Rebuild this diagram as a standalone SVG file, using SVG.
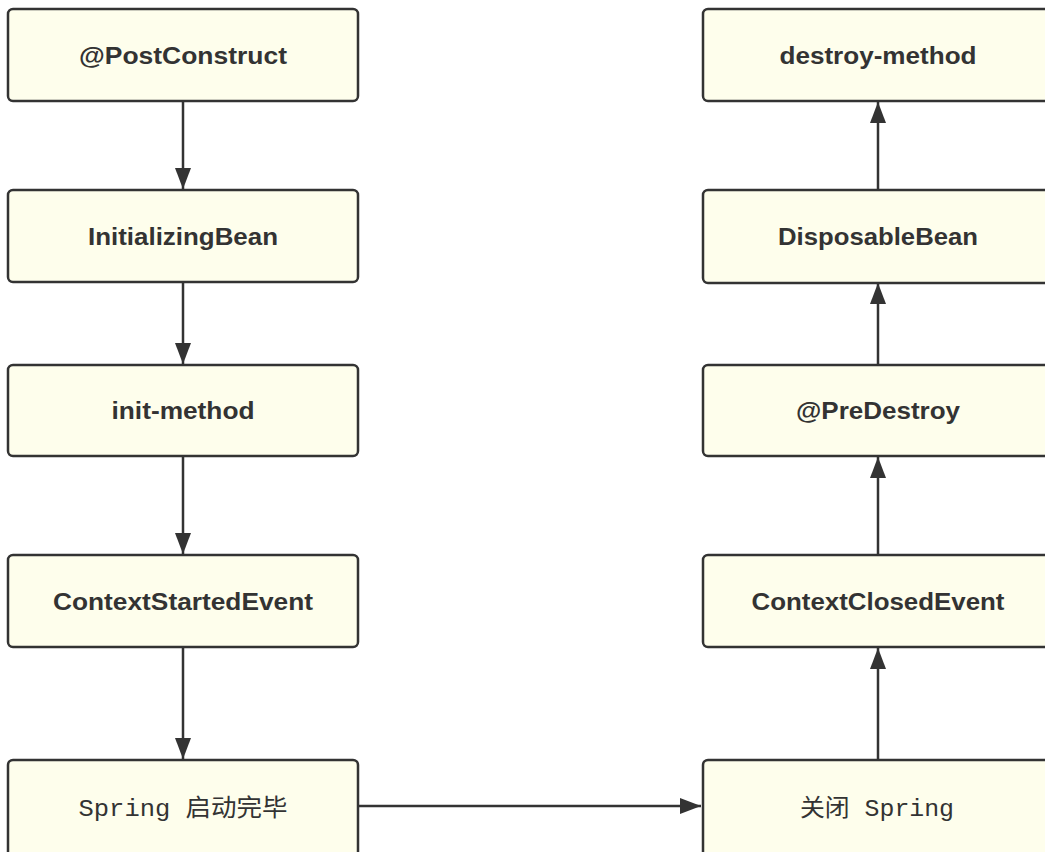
<svg xmlns="http://www.w3.org/2000/svg" width="1045" height="852" viewBox="0 0 1045 852">
<style>
.box{fill:#fefeec;stroke:#333;stroke-width:2.5}
.t{font-family:"Liberation Sans",Arial,sans-serif;font-weight:bold;font-size:23px;fill:#333;text-anchor:middle}
.m{font-family:"Liberation Mono","Noto Sans CJK SC",monospace;font-size:24px;fill:#333;text-anchor:middle}
.c{fill:none;stroke:#333;stroke-width:2.5}
</style>
<defs>
<marker id="ah" viewBox="0 0 21 16" refX="21" refY="8" markerWidth="21" markerHeight="16" markerUnits="userSpaceOnUse" orient="auto">
<path d="M0,0 L21,8 L0,16 Z" fill="#333"/>
</marker>
</defs>
<rect width="1045" height="852" fill="#fff"/>
<g id="connectors">
<line class="c" x1="183" y1="101" x2="183" y2="189" marker-end="url(#ah)"/>
<line class="c" x1="183" y1="282" x2="183" y2="364" marker-end="url(#ah)"/>
<line class="c" x1="183" y1="456" x2="183" y2="554" marker-end="url(#ah)"/>
<line class="c" x1="183" y1="647" x2="183" y2="759" marker-end="url(#ah)"/>
<line class="c" x1="358" y1="806" x2="701" y2="806" marker-end="url(#ah)"/>
<line class="c" x1="878" y1="760" x2="878" y2="648" marker-end="url(#ah)"/>
<line class="c" x1="878" y1="555" x2="878" y2="457" marker-end="url(#ah)"/>
<line class="c" x1="878" y1="365" x2="878" y2="283" marker-end="url(#ah)"/>
<line class="c" x1="878" y1="190" x2="878" y2="102" marker-end="url(#ah)"/>
</g>
<g id="postconstruct">
<rect class="box" x="8" y="9" width="350" height="92" rx="5"/>
<text class="t" x="183" y="64" textLength="208" lengthAdjust="spacingAndGlyphs">@PostConstruct</text>
</g>
<g id="initializingbean">
<rect class="box" x="8" y="190" width="350" height="92" rx="5"/>
<text class="t" x="183" y="245" textLength="190" lengthAdjust="spacingAndGlyphs">InitializingBean</text>
</g>
<g id="initmethod">
<rect class="box" x="8" y="365" width="350" height="91" rx="5"/>
<text class="t" x="183" y="419" textLength="143" lengthAdjust="spacingAndGlyphs">init-method</text>
</g>
<g id="contextstarted">
<rect class="box" x="8" y="555" width="350" height="92" rx="5"/>
<text class="t" x="183" y="610" textLength="260" lengthAdjust="spacingAndGlyphs">ContextStartedEvent</text>
</g>
<g id="springstarted">
<rect class="box" x="8" y="760" width="350" height="100" rx="5"/>
<text class="m" x="183" y="816" textLength="209" lengthAdjust="spacingAndGlyphs">Spring 启动完毕</text>
</g>
<g id="destroymethod">
<rect class="box" x="703" y="9" width="350" height="92" rx="5"/>
<text class="t" x="878" y="64" textLength="197" lengthAdjust="spacingAndGlyphs">destroy-method</text>
</g>
<g id="disposablebean">
<rect class="box" x="703" y="190" width="350" height="93" rx="5"/>
<text class="t" x="878" y="245" textLength="200" lengthAdjust="spacingAndGlyphs">DisposableBean</text>
</g>
<g id="predestroy">
<rect class="box" x="703" y="365" width="350" height="91" rx="5"/>
<text class="t" x="878" y="419" textLength="164" lengthAdjust="spacingAndGlyphs">@PreDestroy</text>
</g>
<g id="contextclosed">
<rect class="box" x="703" y="555" width="350" height="92" rx="5"/>
<text class="t" x="878" y="610" textLength="253" lengthAdjust="spacingAndGlyphs">ContextClosedEvent</text>
</g>
<g id="closespring">
<rect class="box" x="703" y="760" width="350" height="100" rx="5"/>
<text class="m" x="877" y="816" textLength="154" lengthAdjust="spacingAndGlyphs">关闭 Spring</text>
</g>
</svg>
